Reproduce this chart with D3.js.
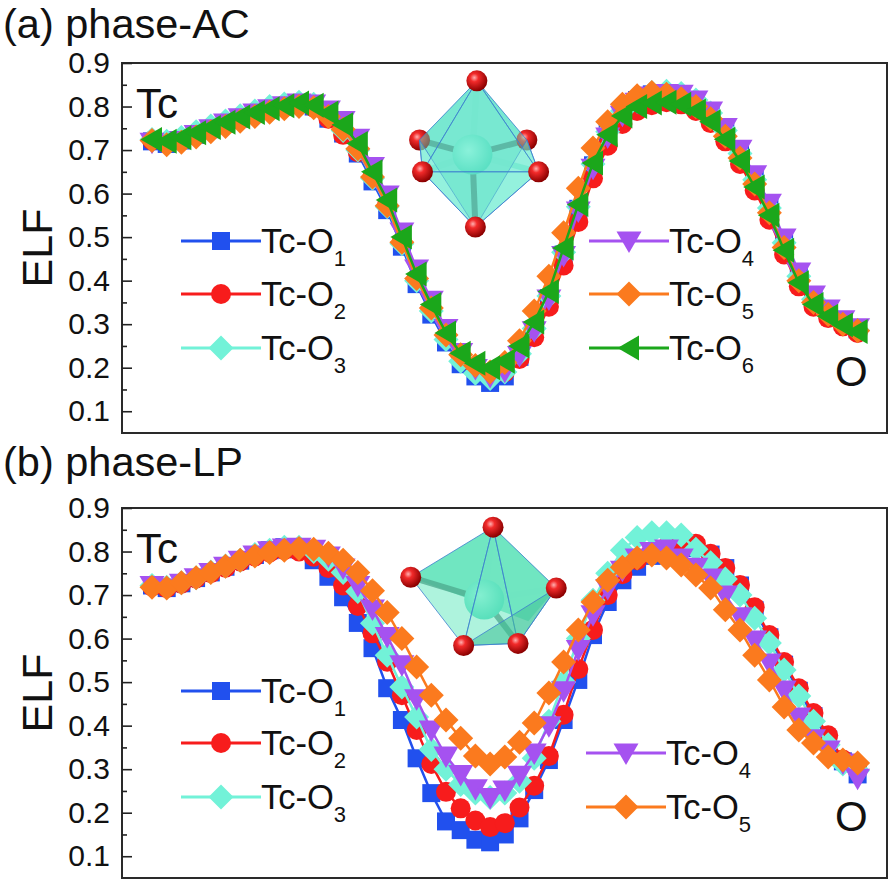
<!DOCTYPE html>
<html lang="en">
<head>
  <meta charset="UTF-8">
  <title>ELF along Tc-O bonds</title>
  <style>
    body { margin: 0; background: #fff; }
    svg { display: block; font-family: "Liberation Sans", Arial, sans-serif; }
    .tick text { font-size: 30px; fill: #111; }
    .tick line { stroke: #222; stroke-width: 1.6px; }
  </style>
</head>
<body>
  <svg id="chart"></svg>
  <script src="https://d3js.org/d3.v7.min.js"></script>
  <script>
    // ---- data (49 points from Tc to O) ----
    const majorTicks = [0.1, 0.2, 0.3, 0.4, 0.5, 0.6, 0.7, 0.8, 0.9];
    const minorTicks = [0.15, 0.25, 0.35, 0.45, 0.55, 0.65, 0.75, 0.85];

    // (a) phase-AC
    const acO1 = [0.720,0.714,0.722,0.735,0.748,0.760,0.772,0.783,0.793,0.800,0.806,0.800,0.772,0.738,0.692,0.628,0.562,0.478,0.392,0.322,0.258,0.208,0.180,0.165,0.180,0.225,0.285,0.360,0.460,0.565,0.665,0.740,0.790,0.815,0.828,0.830,0.826,0.812,0.787,0.748,0.697,0.638,0.573,0.493,0.415,0.362,0.330,0.305,0.288];
    const acO2 = [0.722,0.717,0.725,0.737,0.749,0.761,0.773,0.784,0.793,0.800,0.805,0.798,0.772,0.735,0.695,0.640,0.575,0.490,0.405,0.335,0.272,0.225,0.198,0.185,0.190,0.220,0.270,0.340,0.435,0.535,0.635,0.710,0.760,0.790,0.803,0.810,0.805,0.790,0.762,0.720,0.668,0.607,0.540,0.460,0.387,0.340,0.314,0.295,0.280];
    const acO3 = [0.724,0.720,0.729,0.742,0.755,0.767,0.779,0.790,0.800,0.806,0.810,0.805,0.782,0.745,0.700,0.635,0.570,0.485,0.400,0.330,0.265,0.215,0.187,0.175,0.190,0.232,0.290,0.365,0.465,0.570,0.668,0.742,0.790,0.818,0.832,0.835,0.830,0.815,0.785,0.745,0.692,0.632,0.567,0.487,0.410,0.357,0.326,0.302,0.286];
    const acO4 = [0.718,0.713,0.722,0.736,0.749,0.762,0.774,0.785,0.795,0.802,0.808,0.806,0.792,0.768,0.727,0.662,0.597,0.512,0.427,0.355,0.290,0.235,0.198,0.180,0.192,0.228,0.285,0.358,0.458,0.560,0.658,0.730,0.780,0.810,0.824,0.830,0.828,0.815,0.790,0.752,0.702,0.643,0.578,0.498,0.420,0.367,0.335,0.310,0.292];
    const acO5 = [0.722,0.712,0.718,0.730,0.742,0.754,0.766,0.777,0.787,0.795,0.800,0.797,0.777,0.748,0.703,0.638,0.572,0.488,0.405,0.337,0.275,0.230,0.205,0.190,0.212,0.262,0.330,0.410,0.510,0.612,0.705,0.765,0.805,0.825,0.832,0.828,0.818,0.800,0.772,0.732,0.682,0.622,0.556,0.476,0.400,0.350,0.322,0.300,0.285];
    const acO6 = [0.724,0.720,0.728,0.740,0.752,0.764,0.776,0.786,0.795,0.802,0.808,0.803,0.785,0.758,0.715,0.650,0.585,0.500,0.415,0.345,0.280,0.233,0.210,0.200,0.215,0.250,0.305,0.375,0.475,0.575,0.670,0.735,0.778,0.800,0.808,0.810,0.805,0.790,0.765,0.725,0.675,0.615,0.550,0.470,0.395,0.345,0.318,0.298,0.283];

    // (b) phase-LP
    const lpO1 = [0.722,0.716,0.727,0.739,0.752,0.765,0.779,0.792,0.803,0.810,0.805,0.780,0.742,0.695,0.636,0.578,0.486,0.413,0.325,0.245,0.180,0.160,0.138,0.132,0.150,0.187,0.252,0.321,0.413,0.505,0.608,0.684,0.734,0.765,0.790,0.805,0.810,0.808,0.793,0.762,0.722,0.665,0.603,0.540,0.480,0.422,0.368,0.318,0.288];
    const lpO2 = [0.720,0.716,0.726,0.738,0.750,0.763,0.777,0.789,0.798,0.803,0.800,0.788,0.762,0.722,0.675,0.612,0.547,0.470,0.390,0.312,0.248,0.210,0.182,0.167,0.176,0.212,0.262,0.330,0.425,0.530,0.620,0.700,0.748,0.780,0.800,0.810,0.815,0.818,0.795,0.762,0.723,0.672,0.608,0.546,0.486,0.429,0.378,0.322,0.298];
    const lpO3 = [0.722,0.718,0.728,0.740,0.753,0.767,0.780,0.793,0.803,0.810,0.810,0.800,0.782,0.752,0.708,0.635,0.562,0.489,0.420,0.345,0.300,0.265,0.245,0.235,0.245,0.272,0.325,0.410,0.500,0.600,0.688,0.750,0.803,0.832,0.843,0.843,0.838,0.805,0.774,0.737,0.700,0.647,0.590,0.528,0.468,0.410,0.356,0.312,0.297];
    const lpO4 = [0.722,0.716,0.727,0.740,0.752,0.766,0.780,0.792,0.802,0.808,0.810,0.805,0.790,0.762,0.722,0.668,0.605,0.540,0.462,0.390,0.330,0.288,0.255,0.235,0.252,0.286,0.337,0.400,0.480,0.575,0.655,0.715,0.757,0.785,0.800,0.806,0.785,0.764,0.739,0.700,0.650,0.597,0.544,0.482,0.420,0.370,0.344,0.314,0.279];
    const lpO5 = [0.718,0.716,0.728,0.740,0.752,0.766,0.780,0.790,0.798,0.803,0.807,0.805,0.796,0.780,0.752,0.710,0.660,0.600,0.535,0.470,0.413,0.371,0.330,0.312,0.328,0.362,0.406,0.475,0.546,0.620,0.684,0.734,0.764,0.785,0.792,0.785,0.769,0.746,0.716,0.666,0.620,0.562,0.505,0.443,0.390,0.360,0.328,0.321,0.314];

    const subs   = ["1", "2", "3", "4", "5", "6"];
    const colors = ["#2150ee", "#f71c1c", "#72f2d8", "#a552f0", "#fb7a1e", "#1ba71b"];
    const shapes = ["square", "circle", "diamond", "triDown", "diamond", "triLeft"];

    // octahedron sketches, in data coordinates [point index, ELF]
    const acAtoms = { T: [22.1, 0.859], LU: [18.2, 0.723], RU: [25.5, 0.723], LL: [18.4, 0.650], RL: [26.3, 0.650], B: [22.0, 0.523], C: [21.8, 0.690] };
    const lpAtoms = { T: [23.2, 0.856], L: [17.6, 0.741], R: [27.5, 0.716], BL: [21.2, 0.584], BR: [24.9, 0.589], K: [25.6, 0.640], C: [22.6, 0.690] };

    const W = 891, H = 882;
    const left = 122, right = 887;

    const svg = d3.select("#chart").attr("width", W).attr("height", H);

    const defs = svg.append("defs");
    const grad = defs.append("radialGradient").attr("id", "atom")
      .attr("cx", "38%").attr("cy", "35%").attr("r", "65%");
    grad.append("stop").attr("offset", "0%").attr("stop-color", "#ffb0b0");
    grad.append("stop").attr("offset", "30%").attr("stop-color", "#f22a2a");
    grad.append("stop").attr("offset", "100%").attr("stop-color", "#8a0000");
    const grad2 = defs.append("radialGradient").attr("id", "tc")
      .attr("cx", "40%").attr("cy", "40%").attr("r", "60%");
    grad2.append("stop").attr("offset", "0%").attr("stop-color", "#a8f7e4");
    grad2.append("stop").attr("offset", "100%").attr("stop-color", "#55d8bc");

    function markerPath(shape) {
      if (shape === "square") return "M-9,-9h18v18h-18Z";
      if (shape === "circle") return "M10,0A10,10 0 1,1 -10,0A10,10 0 1,1 10,0Z";
      if (shape === "diamond") return "M0,-12.5L12.5,0L0,12.5L-12.5,0Z";
      if (shape === "triDown") return "M-12.5,-9.5L12.5,-9.5L0,12Z";
      return "M-11.5,0L10,-12.5L10,12.5Z";
    }

    const x = d3.scaleLinear().domain([0, 48]).range([152, 857.6]);

    const panels = [
      { top: 63, title: "(a) phase-AC", titleY: 38,
        data: [acO1, acO2, acO3, acO4, acO5, acO6],
        legend: [[181, 178], [181, 231], [181, 285], [589, 178], [589, 231], [589, 285]],
        atoms: acAtoms, kind: "ac" },
      { top: 508, title: "(b) phase-LP", titleY: 476,
        data: [lpO1, lpO2, lpO3, lpO4, lpO5],
        legend: [[181, 183], [181, 235], [181, 289], [586, 245], [586, 299]],
        atoms: lpAtoms, kind: "lp" }
    ];

    panels.forEach(p => {
      const bottom = p.top + 370;
      const y = d3.scaleLinear().domain([0.05, 0.9]).range([bottom, p.top]);
      const g = svg.append("g");

      // title
      g.append("text").attr("x", 3).attr("y", p.titleY)
        .attr("font-size", 41.5).attr("fill", "#111").text(p.title);

      // frame
      g.append("rect").attr("x", left).attr("y", p.top)
        .attr("width", right - left).attr("height", bottom - p.top)
        .attr("fill", "none").attr("stroke", "#2a2a2a").attr("stroke-width", 2);

      // y axis, ticks pointing inward
      const ax = g.append("g").attr("transform", `translate(${left},0)`)
        .call(d3.axisLeft(y).tickValues(majorTicks).tickFormat(d3.format(".1f"))
          .tickSizeInner(-10).tickSizeOuter(0).tickPadding(12));
      ax.select(".domain").remove();
      ax.selectAll(".tick text").attr("x", -12);
      const mx = g.append("g").attr("transform", `translate(${left},0)`)
        .call(d3.axisLeft(y).tickValues(minorTicks).tickFormat("")
          .tickSizeInner(-5).tickSizeOuter(0));
      mx.select(".domain").remove();

      g.append("text")
        .attr("transform", `translate(52,${p.top + 185}) rotate(-90)`)
        .attr("text-anchor", "middle").attr("font-size", 43).attr("fill", "#111")
        .text("ELF");

      // octahedron sketch
      drawOcta(g, p.kind, p.atoms, y);

      // series
      p.data.forEach((vals, k) => {
        const pts = vals.map((v, i) => [x(i), y(v)]);
        g.append("path").attr("d", d3.line()(pts))
          .attr("fill", "none").attr("stroke", colors[k]).attr("stroke-width", 2.5);
        g.append("g").selectAll("path").data(pts).join("path")
          .attr("transform", d => `translate(${d[0]},${d[1]})`)
          .attr("d", markerPath(shapes[k]))
          .attr("fill", colors[k]);
      });

      // end labels
      g.append("text").attr("x", left + 14).attr("y", p.top + 55)
        .attr("font-size", 42).attr("fill", "#111").text("Tc");
      g.append("text").attr("x", 835).attr("y", p.top + 323)
        .attr("font-size", 42).attr("fill", "#111").text("O");

      // legend
      p.legend.forEach((pos, k) => {
        const lx = pos[0], ly = p.top + pos[1];
        const lg = g.append("g");
        lg.append("line").attr("x1", lx).attr("x2", lx + 80)
          .attr("y1", ly).attr("y2", ly)
          .attr("stroke", colors[k]).attr("stroke-width", 3);
        lg.append("path").attr("transform", `translate(${lx + 40},${ly})`)
          .attr("d", markerPath(shapes[k])).attr("fill", colors[k]);
        const t = lg.append("text").attr("x", lx + 80).attr("y", ly + 12)
          .attr("font-size", 34.5).attr("fill", "#111");
        t.append("tspan").text("Tc-O");
        t.append("tspan").attr("dy", 13).attr("font-size", 22).text(subs[k]);
      });
    });

    function drawOcta(g, kind, a, y) {
      const P = k => [x(a[k][0]), y(a[k][1])];
      const poly = ks => "M" + ks.map(k => P(k).join(",")).join("L") + "Z";
      const og = g.append("g");
      const edge = "#3d7fcf";
      if (kind === "ac") {
        og.append("path").attr("d", poly(["T", "LU", "RU"])).attr("fill", "#5fdcc4").attr("opacity", 0.75);
        og.append("path").attr("d", poly(["B", "LU", "RU"])).attr("fill", "#5fdcc4").attr("opacity", 0.75);
        // bonds
        ["LU", "RU", "T", "B", "LL", "RL"].forEach(k => {
          og.append("line").attr("x1", P("C")[0]).attr("y1", P("C")[1])
            .attr("x2", P(k)[0]).attr("y2", P(k)[1])
            .attr("stroke", k === "LU" || k === "RU" || k === "B" ? "#3f6e66" : "#7fe3cf")
            .attr("stroke-width", 6).attr("opacity", 0.7);
        });
        og.append("circle").attr("cx", P("C")[0]).attr("cy", P("C")[1]).attr("r", 20).attr("fill", "url(#tc)");
        og.append("circle").attr("cx", P("LU")[0]).attr("cy", P("LU")[1]).attr("r", 10.5).attr("fill", "url(#atom)");
        og.append("circle").attr("cx", P("RU")[0]).attr("cy", P("RU")[1]).attr("r", 10.5).attr("fill", "url(#atom)");
        [["T", "LU", "LL"], ["T", "RU", "RL"], ["B", "LU", "LL"], ["B", "RU", "RL"], ["T", "LL", "RL"], ["B", "LL", "RL"]].forEach(f => {
          og.append("path").attr("d", poly(f)).attr("fill", "#66eccf").attr("fill-opacity", 0.45)
            .attr("stroke", edge).attr("stroke-width", 0.8);
        });
        ["T", "LL", "RL", "B"].forEach(k => {
          og.append("circle").attr("cx", P(k)[0]).attr("cy", P(k)[1]).attr("r", 10.5).attr("fill", "url(#atom)");
        });
      } else {
        og.append("path").attr("d", poly(["T", "L", "K", "R"])).attr("fill", "#4fd8ae").attr("opacity", 0.7);
        ["L", "BR", "R", "T"].forEach(k => {
          og.append("line").attr("x1", P("C")[0]).attr("y1", P("C")[1])
            .attr("x2", P(k)[0]).attr("y2", P(k)[1])
            .attr("stroke", k === "L" || k === "BR" ? "#3b6a5e" : "#7fe3c8")
            .attr("stroke-width", 6).attr("opacity", 0.75);
        });
        og.append("circle").attr("cx", P("C")[0]).attr("cy", P("C")[1]).attr("r", 20).attr("fill", "url(#tc)");
        [["T", "L", "BL"], ["T", "BL", "BR"], ["T", "BR", "R"]].forEach(f => {
          og.append("path").attr("d", poly(f)).attr("fill", "#5ee8bc").attr("fill-opacity", 0.5)
            .attr("stroke", edge).attr("stroke-width", 0.8);
        });
        og.append("path").attr("d", poly(["BL", "BR", "R"])).attr("fill", "#3fbf95").attr("fill-opacity", 0.55)
          .attr("stroke", edge).attr("stroke-width", 0.8);
        ["T", "L", "R", "BL", "BR"].forEach(k => {
          og.append("circle").attr("cx", P(k)[0]).attr("cy", P(k)[1]).attr("r", 10.5).attr("fill", "url(#atom)");
        });
      }
    }
  </script>
</body>
</html>
